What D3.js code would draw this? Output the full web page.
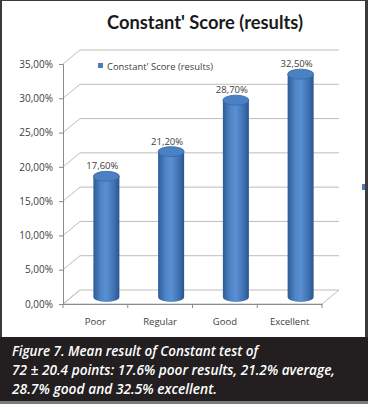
<!DOCTYPE html>
<html>
<head>
<meta charset="utf-8">
<script src="https://cdn.jsdelivr.net/npm/d3@7"></script>
<style>
  html, body { margin: 0; padding: 0; background: #fff; }
  svg { display: block; }
</style>
</head>
<body>
<div id="chart"></div>
<script>
// data
const categories = ["Poor", "Regular", "Good", "Excellent"];
const values = [17.6, 21.2, 28.7, 32.5];
const valueLabels = ["17,60%", "21,20%", "28,70%", "32,50%"];
const yTicks = [0, 5, 10, 15, 20, 25, 30, 35];
const seriesName = "Constant' Score (results)";
const captionLines = [
  "Figure 7. Mean result of Constant test of",
  "72 ± 20.4 points: 17.6% poor results, 21.2% average,",
  "28.7% good and 32.5% excellent."
];

const W = 368, H = 404;
const svg = d3.select("#chart").append("svg")
  .attr("width", W).attr("height", H);

// frame
svg.append("rect").attr("width", W).attr("height", H).attr("fill", "#3b3b3b");
svg.append("rect").attr("x", 2).attr("y", 1).attr("width", 363).attr("height", 336).attr("fill", "#fff");
svg.append("rect").attr("x", 0).attr("y", 337).attr("width", W).attr("height", 64).attr("fill", "#231f20");
svg.append("rect").attr("x", 0).attr("y", 401).attr("width", W).attr("height", 3).attr("fill", "#7a7a7a");

// 3d depth offset
const dx = 17, dy = 14;

const x = d3.scaleBand().domain(categories).range([63, 322]);
const y = d3.scaleLinear().domain([0, 35]).range([304, 64]);

const grid = svg.append("g");
// back wall gridlines + left wall diagonals
yTicks.forEach(t => {
  if (t > 0) {
    grid.append("line")
      .attr("x1", x.range()[0] + dx).attr("x2", x.range()[1] + dx)
      .attr("y1", y(t) - dy).attr("y2", y(t) - dy)
      .attr("stroke", "#bdbdbd").attr("stroke-width", 1);
  }
  grid.append("line")
    .attr("x1", x.range()[0]).attr("y1", y(t))
    .attr("x2", x.range()[0] + dx).attr("y2", y(t) - dy)
    .attr("stroke", "#bdbdbd").attr("stroke-width", 1);
});
// floor
grid.append("path")
  .attr("d", `M${x.range()[0]},${y(0)} L${x.range()[1]},${y(0)} L${x.range()[1] + dx},${y(0) - dy} L${x.range()[0] + dx},${y(0) - dy} Z`)
  .attr("fill", "none").attr("stroke", "#bdbdbd").attr("stroke-width", 1);

// y axis
const yAxis = svg.append("g")
  .attr("transform", `translate(${x.range()[0]},0)`)
  .call(d3.axisLeft(y).tickValues(yTicks).tickSize(4).tickPadding(6)
    .tickFormat(d => d3.format(".2f")(d).replace(".", ",") + "%"));
yAxis.select(".domain").attr("stroke", "#8a8a8a");
yAxis.selectAll(".tick line").attr("stroke", "#8a8a8a");
yAxis.selectAll("text").attr("fill", "#404040")
  .style("font-family", "'Open Sans', sans-serif").style("font-size", "10px");

// x axis
const xAxis = svg.append("g")
  .attr("transform", `translate(0,${y(0)})`)
  .call(d3.axisBottom(x).tickSize(0).tickPadding(14));
xAxis.select(".domain").attr("stroke", "#8a8a8a");
xAxis.selectAll("text").attr("fill", "#404040")
  .style("font-family", "'Open Sans', sans-serif").style("font-size", "9.5px");
// boundary ticks
xAxis.selectAll(".btick")
  .data(categories.map(c => x(c)).concat([x.range()[1]]))
  .enter().append("line")
  .attr("x1", d => d).attr("x2", d => d)
  .attr("y1", 0).attr("y2", 4)
  .attr("stroke", "#8a8a8a");

// cylinder gradient
const defs = svg.append("defs");
const grad = defs.append("linearGradient").attr("id", "cyl")
  .attr("x1", "0%").attr("x2", "100%");
[["0%", "#2f5c97"], ["30%", "#4f86c8"], ["50%", "#5a8fd1"], ["80%", "#3f72b3"], ["100%", "#2a5490"]]
  .forEach(([o, c]) => grad.append("stop").attr("offset", o).attr("stop-color", c));

const bw = 26, ry = 5;
const barG = svg.append("g");
categories.forEach((c, i) => {
  const cx = x(c) + x.bandwidth() / 2 + 11;
  const yTop = y(values[i]) - dy / 2;
  const yBot = y(0) - dy / 2;
  barG.append("path")
    .attr("d", `M${cx - bw / 2},${yTop} L${cx - bw / 2},${yBot} A${bw / 2},${ry} 0 0 0 ${cx + bw / 2},${yBot} L${cx + bw / 2},${yTop} Z`)
    .attr("fill", "url(#cyl)");
  barG.append("ellipse")
    .attr("cx", cx).attr("cy", yTop).attr("rx", bw / 2).attr("ry", ry)
    .attr("fill", "#4a80c4").attr("stroke", "#3668a8").attr("stroke-width", 0.8);
  svg.append("text")
    .attr("x", cx - 4).attr("y", yTop - ry - 2)
    .attr("text-anchor", "middle")
    .attr("fill", "#404040")
    .style("font-family", "'Open Sans', sans-serif").style("font-size", "9.5px")
    .text(valueLabels[i]);
});

// title
svg.append("text")
  .attr("x", 205).attr("y", 29)
  .attr("text-anchor", "middle")
  .attr("fill", "#1a1a1a")
  .attr("textLength", 196).attr("lengthAdjust", "spacingAndGlyphs")
  .style("font-family", "Lato, sans-serif").style("font-weight", "bold").style("font-size", "19px")
  .text(seriesName);

// legend
svg.append("rect").attr("x", 98).attr("y", 63).attr("width", 5).attr("height", 5).attr("fill", "#4a7ebb");
svg.append("text")
  .attr("x", 107).attr("y", 69.5)
  .attr("fill", "#404040")
  .attr("textLength", 106).attr("lengthAdjust", "spacingAndGlyphs")
  .style("font-family", "'Open Sans', sans-serif").style("font-size", "8.5px")
  .text(seriesName);
// clipped outer legend marker
svg.append("rect").attr("x", 362).attr("y", 184).attr("width", 3).attr("height", 6).attr("fill", "#4a7ebb");

// caption
const capLengths = [246, 323, 205];
captionLines.forEach((l, i) => {
  svg.append("text")
    .attr("x", 12).attr("y", 356 + i * 19)
    .attr("fill", "#fff")
    .attr("textLength", capLengths[i]).attr("lengthAdjust", "spacingAndGlyphs")
    .style("font-family", "'Open Sans', sans-serif").style("font-style", "italic")
    .style("font-weight", "600").style("font-size", "14px")
    .text(l);
});
</script>
</body>
</html>
